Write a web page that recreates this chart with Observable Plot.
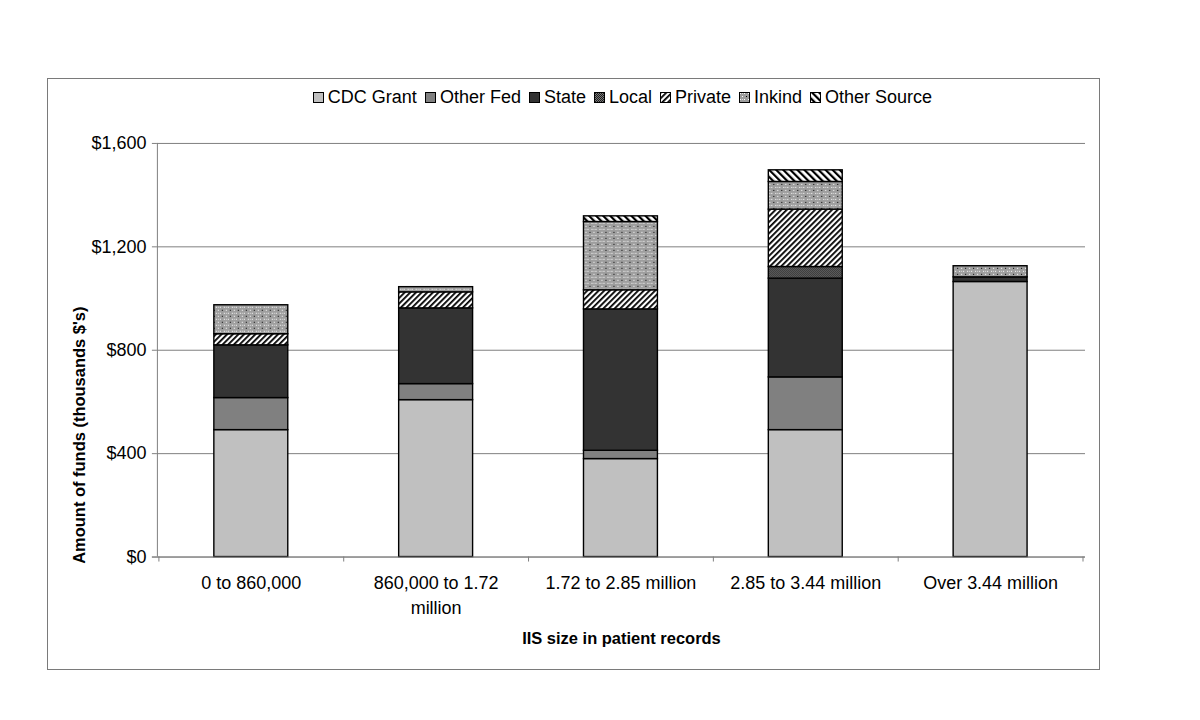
<!DOCTYPE html>
<html>
<head>
<meta charset="utf-8">
<script src="https://cdn.jsdelivr.net/npm/d3@7"></script>
<script src="https://cdn.jsdelivr.net/npm/@observablehq/plot@0.6"></script>
<style>
  html, body { margin: 0; padding: 0; background: #fff; }
  body { width: 1200px; height: 720px; position: relative; font-family: "Liberation Sans", Arial, sans-serif; }
  #box { position: absolute; left: 47px; top: 78px; width: 1053px; height: 592px; border: 1px solid #7a7a7a; box-sizing: border-box; }
  #legend { position: absolute; left: 110px; width: 929px; top: 8px; display: flex; justify-content: center; align-items: center; font-size: 18px; color: #000; }
  #legend .item { display: flex; align-items: center; margin-right: 8px; }
  #legend .item:last-child { margin-right: 0; }
  #legend svg { margin-right: 4px; }
  #chart { position: absolute; left: -1px; top: -1px; }
</style>
</head>
<body>
<svg width="0" height="0" style="position:absolute">
  <defs>
    <pattern id="pLocal" width="2" height="2" patternUnits="userSpaceOnUse">
      <rect width="2" height="2" fill="#7a7a7a"/>
      <rect x="0" y="0" width="1" height="1" fill="#1e1e1e"/>
      <rect x="1" y="1" width="1" height="1" fill="#1e1e1e"/>
    </pattern>
    <pattern id="pPrivate" width="4" height="4" patternUnits="userSpaceOnUse" patternTransform="rotate(45)">
      <rect width="4" height="4" fill="#fff"/>
      <rect x="0" y="0" width="1.8" height="4" fill="#000"/>
    </pattern>
    <pattern id="pInkind" width="8" height="6" patternUnits="userSpaceOnUse">
      <rect width="8" height="6" fill="#9e9e9e"/>
      <rect x="1" y="1" width="1" height="1" fill="#fff"/>
      <rect x="5" y="1" width="1" height="1" fill="#fff"/>
      <rect x="3" y="4" width="1" height="1" fill="#fff"/>
      <rect x="7" y="4" width="1" height="1" fill="#000"/>
      <rect x="3" y="1" width="1" height="1" fill="#e0e0e0"/>
    </pattern>
    <pattern id="pOther" width="5" height="5" patternUnits="userSpaceOnUse" patternTransform="rotate(-45)">
      <rect width="5" height="5" fill="#fff"/>
      <rect x="0" y="0" width="2.2" height="5" fill="#000"/>
    </pattern>
  </defs>
</svg>
<div id="box">
  <div id="legend"></div>
  <div id="chart"></div>
</div>
<script>
// ---- data ----
const categories = ["0 to 860,000", "860,000 to 1.72 million", "1.72 to 2.85 million", "2.85 to 3.44 million", "Over 3.44 million"];
const tickLabels = ["0 to 860,000", "860,000 to 1.72\nmillion", "1.72 to 2.85 million", "2.85 to 3.44 million", "Over 3.44 million"];
const seriesNames = ["CDC Grant", "Other Fed", "State", "Local", "Private", "Inkind", "Other Source"];
const cdcGrant    = [491, 607, 379, 491, 1064];
const otherFed    = [124, 62, 32, 204, 0];
const stateFunds  = [204, 293, 547, 382, 18];
const localFunds  = [0, 0, 0, 45, 0];
const privateFunds= [43, 62, 74, 222, 0];
const inkind      = [112, 20, 264, 107, 43];
const otherSource = [0, 0, 22, 45, 0];
const yTicks = [0, 400, 800, 1200, 1600];
const yLabel = "Amount of funds (thousands $'s)";
const xLabel = "IIS size in patient records";

const seriesFills = ["#c0c0c0", "#808080", "#333333", "url(#pLocal)", "url(#pPrivate)", "url(#pInkind)", "url(#pOther)"];
const seriesValues = [cdcGrant, otherFed, stateFunds, localFunds, privateFunds, inkind, otherSource];

const rows = [];
categories.forEach((c, i) => {
  seriesNames.forEach((s, j) => {
    const v = seriesValues[j][i];
    if (v > 0) rows.push({category: c, series: s, value: v});
  });
});

// ---- legend ----
const legend = document.getElementById("legend");
seriesNames.forEach((s, j) => {
  const item = document.createElement("div");
  item.className = "item";
  item.innerHTML = `<svg width="11" height="11"><rect x="0.5" y="0.5" width="10" height="10" fill="${seriesFills[j]}" stroke="#000" stroke-width="1"/></svg><span>${s}</span>`;
  legend.appendChild(item);
});

// ---- chart ----
const font = "'Liberation Sans', Arial, sans-serif";
const chart = Plot.plot({
  width: 1053,
  height: 592,
  marginLeft: 110,
  marginRight: 14,
  marginTop: 65,
  marginBottom: 113,
  style: {fontFamily: font, fontSize: "18px", background: "transparent", color: "#000"},
  x: {domain: categories, paddingInner: 0.6, paddingOuter: 0.3, label: null},
  y: {domain: [0, 1600], label: null},
  color: {type: "ordinal", domain: seriesNames, range: seriesFills},
  marks: [
    Plot.gridY(yTicks, {stroke: "#808080", strokeOpacity: 1, strokeWidth: 1}),
    Plot.barY(rows, {x: "category", y: "value", fill: "series", stroke: "#000", strokeWidth: 1.4}),
    Plot.axisY(yTicks, {tickSize: 5, tickPadding: 6, stroke: "#808080", fontSize: 18, tickFormat: d => "$" + d3.format(",")(d), label: null}),
    Plot.axisX({tickSize: 0, tickPadding: 15, fontSize: 18, lineHeight: 1.35, tickFormat: d => tickLabels[categories.indexOf(d)], label: null}),
    Plot.text([yLabel], {text: d => d, frameAnchor: "left", textAnchor: "middle", rotate: -90, dx: -78, dy: 85, fontWeight: "bold", fontSize: 16.5}),
    Plot.text([xLabel], {text: d => d, frameAnchor: "bottom", dy: 87, fontWeight: "bold", fontSize: 16.5})
  ]
});
document.getElementById("chart").appendChild(chart);

// axis lines and category tick marks, positioned via Plot's scales
const xs = chart.scale("x"), ys = chart.scale("y");
const svg = d3.select(chart);
const x0 = xs.range[0], x1 = xs.range[1];
const yBottom = ys.apply(0), yTop = ys.apply(1600);
const g = svg.append("g").attr("stroke", "#808080").attr("stroke-width", 1);
g.append("line").attr("x1", x0 + 0.5).attr("x2", x0 + 0.5).attr("y1", yTop).attr("y2", yBottom);
g.append("line").attr("x1", x0 - 5).attr("x2", x1).attr("y1", yBottom + 0.5).attr("y2", yBottom + 0.5);
const step = xs.step;
const bounds = categories.map(c => xs.apply(c) + xs.bandwidth / 2 - step / 2);
bounds.push(xs.apply(categories[categories.length - 1]) + xs.bandwidth / 2 + step / 2);
bounds.forEach(b => {
  g.append("line").attr("x1", b + 0.5).attr("x2", b + 0.5).attr("y1", yBottom).attr("y2", yBottom + 5);
});
</script>
</body>
</html>
